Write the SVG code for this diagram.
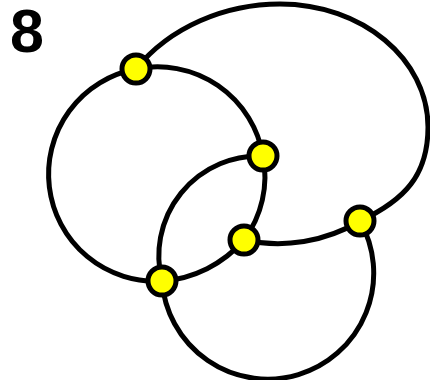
<svg xmlns="http://www.w3.org/2000/svg" width="430" height="380" viewBox="0 0 430 380">
<style>
.edge{fill:none;stroke:#000;stroke-width:5}
.node{fill:#ffff00;stroke:#000;stroke-width:5}
.lbl{font-family:"Liberation Sans",Arial,sans-serif;font-weight:bold;font-size:61px;fill:#000}
</style>
<rect width="430" height="380" fill="#fff"/>
<text class="lbl" x="10" y="52">8</text>
<g id="connectors">
<path class="edge" d="M136,69 C170,27 225,4 280,4 C362,4 428,59 428,127 C428,175 405,200 360,221"/>
<path class="edge" d="M136,69 A107,107 0 0 1 263,156"/>
<path class="edge" d="M263,156 A107,107 0 0 1 244,240"/>
<path class="edge" d="M244,240 A120,120 0 0 1 162,281"/>
<path class="edge" d="M162,281 A107,107 0 0 1 136,69"/>
<path class="edge" d="M263,156 A100,100 0 0 0 162,281"/>
<path class="edge" d="M244,240 A160,160 0 0 0 360,221"/>
<path class="edge" d="M162,281 A106,106 0 1 0 360,221"/>
</g>
<g id="nA"><circle class="node" cx="136" cy="69" r="14"/></g>
<g id="nB"><circle class="node" cx="263" cy="156" r="14"/></g>
<g id="nC"><circle class="node" cx="244" cy="240" r="14"/></g>
<g id="nD"><circle class="node" cx="162" cy="281" r="14"/></g>
<g id="nE"><circle class="node" cx="360" cy="221" r="14"/></g>
</svg>
